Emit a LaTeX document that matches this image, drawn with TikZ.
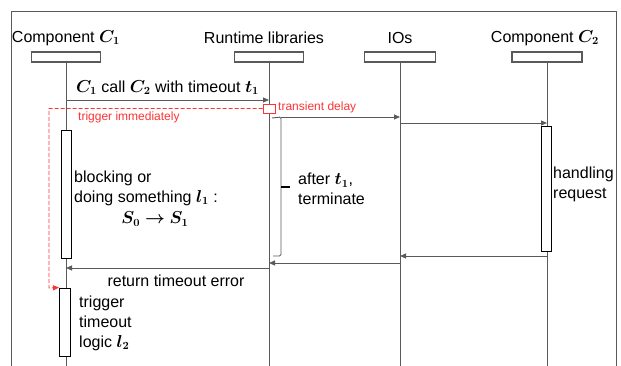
\documentclass[tikz,border=0pt]{standalone}
\usepackage{fontspec}
\setmainfont{Liberation Sans}
\usepackage{bm}
\usetikzlibrary{positioning, arrows.meta}
\definecolor{linegray}{HTML}{5A5A5A}
\definecolor{alertred}{HTML}{FF3333}

\begin{document}
\begin{tikzpicture}[
      x=1pt, y=-1pt,
      head/.style={rectangle, draw=linegray, line width=1.1pt, fill=white,
                   minimum width=69pt, minimum height=10pt, inner sep=0pt},
      actbox/.style={rectangle, draw, line width=0.9pt, fill=white,
                     minimum width=10pt, inner sep=0pt},
      lifeline/.style={draw=linegray, line width=1pt},
      msg/.style={-{Triangle[length=6pt, width=5pt]}, line width=0.8pt, draw=linegray},
      title/.style={font=\fontsize{16}{20}\selectfont, inner sep=0pt},
      lbl/.style={font=\fontsize{16}{20}\selectfont, inner sep=0pt, align=left},
      note/.style={font=\fontsize{12}{14}\selectfont, text=alertred, inner sep=0pt},
      delay/.style={draw=alertred, line width=0.8pt, dash pattern=on 4pt off 2pt},
    ]
    \useasboundingbox (0,0) rectangle (621,366);

    % frame
    \draw[linegray, line width=1pt] (11,366) -- (11,12) -- (616,12) -- (616,366);

    % participants
    \node[title] (c1name) at (66,38) {Component $\bm{C_1}$};
    \node[title] (rtname) at (264,38) {Runtime libraries};
    \node[title] (ioname) at (400,38) {IOs};
    \node[title] (c2name) at (545,38) {Component $\bm{C_2}$};

    \node[head] (c1head) at (66,57) {};
    \node[head] (rthead) at (269,57) {};
    \node[head, minimum width=71pt] (iohead) at (400,57) {};
    \node[head, minimum width=70pt] (c2head) at (547,57) {};

    \coordinate (bottom) at (0,366);
    \foreach \p in {c1, rt, io, c2}
      \draw[lifeline] (\p head.south) -- (bottom -| \p head);

    % message rows
    \coordinate (rcall) at (0,100);
    \coordinate (rdelay) at (0,108.5);
    \coordinate (rsend) at (0,123);
    \coordinate (rback) at (0,256);
    \coordinate (rio) at (0,263);
    \coordinate (rret) at (0,268);
    \coordinate (rtrig) at (0,288);

    % activations
    \node[actbox, minimum height=128pt] (block) at (66,194) {};
    \node[actbox, minimum height=125pt] (handle) at (546,188.5) {};
    \node[actbox, minimum height=68pt, minimum width=11pt] (timeout) at (65,322) {};

    % call
    \draw[msg] (rcall -| c1head) -- (rcall -| rthead)
      node[midway, above=5pt, lbl] (calllbl) {$\bm{C_1}$ call $\bm{C_2}$ with timeout $\bm{t_1}$};

    % transient delay
    \node[draw=alertred, line width=0.9pt, fill=white, minimum width=12pt,
          minimum height=9pt, inner sep=0pt] (redbox) at (rdelay -| rthead) {};
    \node[note, anchor=west] (delaylbl) at (278,107) {transient delay};
    \coordinate (dcorner) at (49,108.5);
    \draw[delay, -{Triangle[length=6pt, width=5pt]}]
      (redbox.west) -- (dcorner) -- (dcorner |- rtrig) -- (timeout.north west);
    \node[note, anchor=west] (triglbl) at (78,117) {trigger immediately};

    % timer bracket
    \coordinate (brtop) at (281,117);
    \coordinate (brbot) at (281,256);
    \coordinate (brmid) at (281,187);
    \draw[linegray, line width=0.9pt, rounded corners=1.5pt]
      (272,118) -- (brtop) -- (brbot) -- (273,256);
    \draw[line width=1.3pt] (brmid) -- ++(9,0);
    \node[lbl, anchor=west] (termlbl) at (298,189) {after $\bm{t_1}$,\\terminate};

    % forwarding
    \draw[msg] (brtop) -- (brtop -| iohead);
    \draw[msg] (rsend -| iohead) -- (rsend -| c2head);

    % returns
    \draw[msg] (rback -| c2head) -- (rback -| iohead);
    \draw[msg] (rio -| iohead) -- (rio -| rthead);
    \draw[msg] (rret -| rthead) -- (rret -| c1head);
    \node[lbl] (retlbl) at (176,281) {return timeout error};

    % notes on activations
    \node[lbl, anchor=west] (blklbl) at (74,188) {blocking or\\doing something $\bm{l_1}$ :};
    \node[lbl] (statelbl) at (155,219) {$\bm{S_0 \rightarrow S_1}$};
    \node[lbl, anchor=west] (handlbl) at (553,184) {handling\\request};
    \node[lbl, anchor=west] (logiclbl) at (79,323) {trigger\\timeout\\logic $\bm{l_2}$};
  \end{tikzpicture}
\end{document}
